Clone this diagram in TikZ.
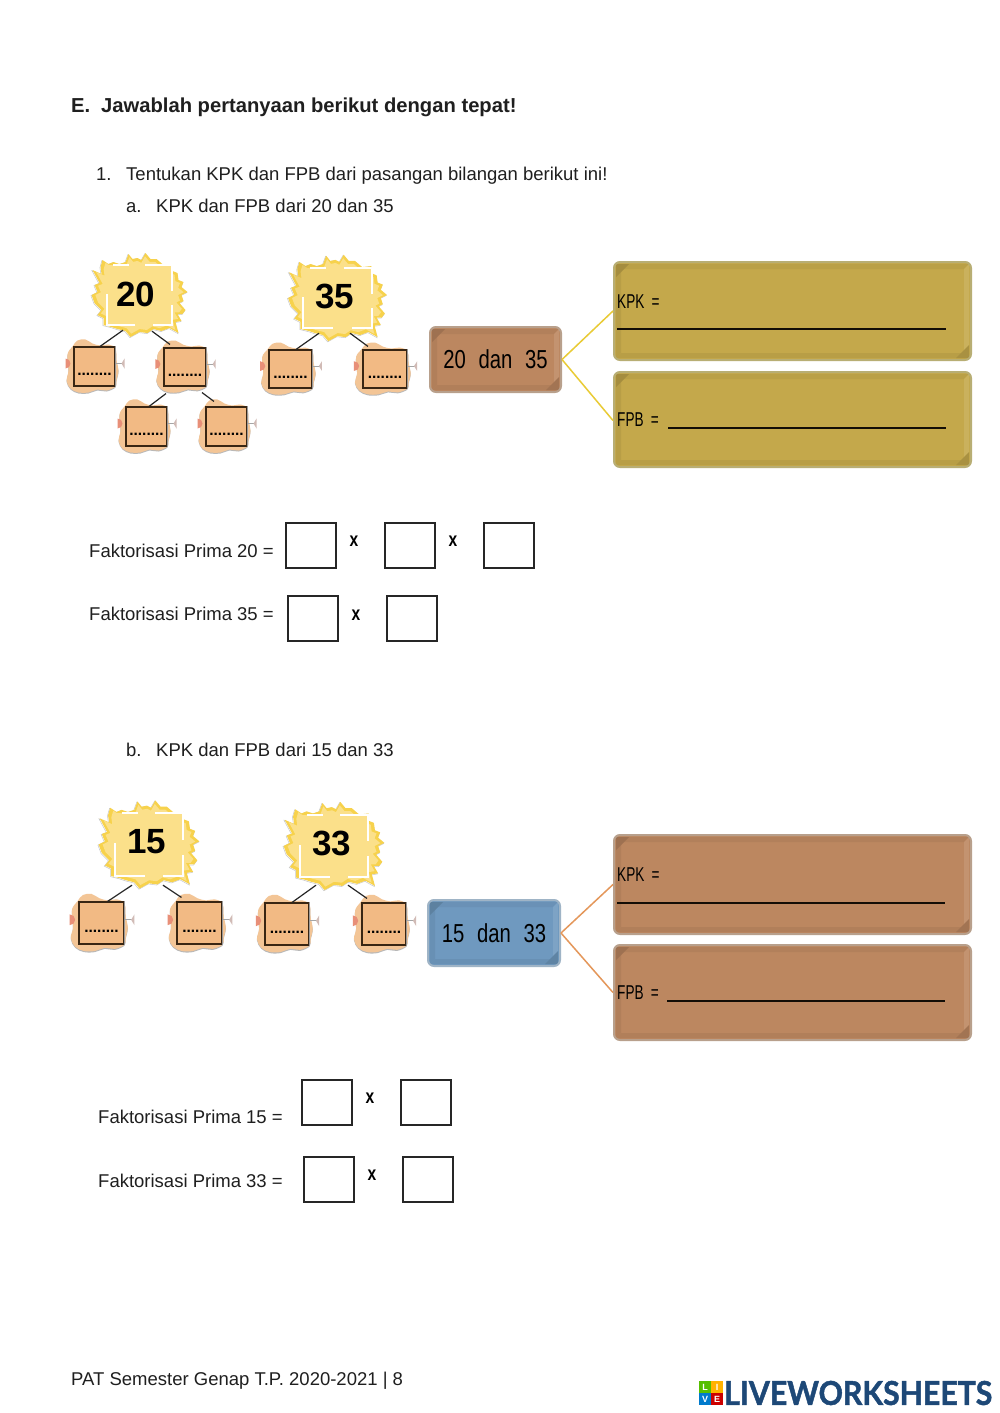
\documentclass[tikz,border=0pt]{standalone}
\usepackage{fontspec}
\setmainfont{Liberation Sans}
\newfontfamily\narrowfont[FakeStretch=0.78]{Liberation Sans}
\newfontfamily\slimfont[FakeStretch=0.68]{Liberation Sans}
\newfontfamily\logofont[BoldFeatures={FakeBold=1.5}]{Lato}
\usetikzlibrary{fit}
\definecolor{burstc}{HTML}{F7D24C}
\definecolor{burstin}{HTML}{FBE08A}
\definecolor{cloudc}{HTML}{F3C596}
\definecolor{leafc}{HTML}{F2BA84}
\definecolor{petal}{HTML}{E88F78}
\definecolor{gold}{HTML}{C4A84B}
\definecolor{goldedge}{HTML}{B8AE74}
\definecolor{clay}{HTML}{BC8760}
\definecolor{clayedge}{HTML}{B8A08C}
\definecolor{steel}{HTML}{6F99BF}
\definecolor{steeledge}{HTML}{9FB4C6}
\definecolor{linegold}{HTML}{E9CB35}
\definecolor{lineorange}{HTML}{E4975A}
\definecolor{logoblue}{HTML}{1D4877}
\tikzset{
  txt/.style={anchor=base west,inner sep=0pt,font=\fontsize{18.5}{22}\selectfont,text=black!88},
  boldtxt/.style={txt,font=\fontsize{20.2}{22}\selectfont\bfseries},
  ansbox/.style={draw=black!85,line width=2pt,minimum width=50pt,minimum height=45pt,inner sep=0pt},
  timesmark/.style={inner sep=0pt,font=\narrowfont\fontsize{20}{22}\selectfont\bfseries},
  numlabel/.style={inner sep=0pt,font=\fontsize{35}{38}\selectfont\bfseries},
  conn/.style={draw=black!85,line width=1.2pt},
  branch/.style={line width=1.5pt},
  narrowlabel/.style={anchor=base west,inner sep=0pt,font=\slimfont\fontsize{20}{24}\selectfont},
  pairlabel/.style={inner sep=0pt,font=\narrowfont\fontsize{26}{30}\selectfont},
  wline/.style={draw=black!90!brown,line width=1.5pt},
  bracket/.style={white,line width=1.8pt},
  logotile/.style={minimum size=11.5pt,inner sep=0pt,text=white,font=\fontsize{9}{9}\selectfont\bfseries}
}
\newcommand{\burstpath}{(-37,-35) -- (-31,-31) -- (-26,-33) -- (-20,-31) -- (-14,-33) -- (-11,-41) -- (-7,-36) -- (-2,-37) -- (2,-35) -- (6,-42) -- (11,-36) -- (17,-36) -- (24,-30) -- (33,-31) -- (33,-24) -- (38,-22) -- (39,-15) -- (44,-13) -- (42,-8) -- (48,-3) -- (42,0) -- (44,6) -- (40,8) -- (46,15) -- (43,19) -- (38,19) -- (42,26) -- (36,27) -- (39,38) -- (30,33) -- (22,36) -- (14,34) -- (8,38) -- (0,37) -- (-9,42) -- (-14,36) -- (-22,34) -- (-28,32) -- (-36,30) -- (-36,23) -- (-42,20) -- (-38,15) -- (-45,8) -- (-48,0) -- (-42,-3) -- (-45,-10) -- (-40,-12) -- (-47,-25) -- (-38,-21) -- (-39,-28) -- cycle}
% name, centre x, y, square width, height, scale
\newcommand{\burstshape}[6]{%
  \begin{scope}[shift={(#2,#3)},xscale=#6,yscale=#6]
    \draw[black!22,line width=.5pt,shift={(-.6,.6)}] \burstpath;
    \fill[burstc] \burstpath;
    \fill[burstin,xscale=.92,yscale=.92] \burstpath;
  \end{scope}
  \node[fill=burstin,minimum width=#4pt,minimum height=#5pt,inner sep=0pt] (#1) at (#2,#3) {};
  \draw[bracket] (#1.north west) ++({.10*#4},0) -- ++({.24*#4},0);
  \draw[bracket] (#1.north west) ++({.59*#4},0) -- ++({.41*#4},0) -- ++(0,{.43*#5});
  \draw[bracket] (#1.south east) ++(0,{-.34*#5}) -- ++(0,{.34*#5}) -- ++({-.29*#4},0);
  \draw[bracket] (#1.south west) ++({.44*#4},0) -- ++({-.44*#4},0) -- ++(0,{-.52*#5});
}
% name, centre x, y, square width, height
\newcommand{\leafshape}[5]{%
  \begin{scope}[shift={(#2,#3)},xscale=#4/41,yscale=#5/39]
    \fill[black!28,shift={(0,1)}] plot[smooth cycle,tension=.6] coordinates {(-27,-12) (-22,-20) (-17,-26) (-9,-27) (-2,-23) (6,-21) (14,-22) (21,-18) (22,-6) (24,4) (22,14) (21,20) (12,24) (3,23) (-6,26) (-16,26) (-24,22) (-28,14) (-26,4)};
    \fill[cloudc] plot[smooth cycle,tension=.6] coordinates {(-27,-12) (-22,-20) (-17,-26) (-9,-27) (-2,-23) (6,-21) (14,-22) (21,-18) (22,-6) (24,4) (22,14) (21,20) (12,24) (3,23) (-6,26) (-16,26) (-24,22) (-28,14) (-26,4)};
    \fill[petal] (-29,2) arc[start angle=90,end angle=-90,radius=5] -- cycle;
    \draw[black!35,line width=.8pt] (21,-3) -- (28,-3);
    \fill[petal!60!black!40] (30,-8) -- (27,-3) -- (30,2) -- cycle;
  \end{scope}
  \node[draw=black!70!brown,line width=1.1pt,fill=leafc,minimum width=#4pt,minimum height=#5pt,inner sep=0pt] (#1) at (#2,#3) {};
  \draw[black!40,line width=1pt] (#1.north east) -- (#1.south east);
  \node[inner sep=0pt,font=\fontsize{15.5}{16}\selectfont\bfseries] at ([yshift=-8pt]#1.center) {........};
}
% name, x1, y1, x2, y2, face, edge, text
\newcommand{\bevbox}[8]{%
  \fill[#6,rounded corners=6pt] (#2,#3) rectangle (#4,#5);
  \fill[#6!95!black] (#2+2,#3+2) -- (#4-2,#3+2) -- (#4-7,#3+7) -- (#2+7,#3+7) -- cycle;
  \fill[#6!94!black] (#2+2,#3+2) -- (#2+7,#3+7) -- (#2+7,#5-7) -- (#2+2,#5-2) -- cycle;
  \fill[#6!90!white] (#4-2,#3+2) -- (#4-7,#3+7) -- (#4-7,#5-7) -- (#4-2,#5-2) -- cycle;
  \fill[#6!94!black] (#2+2,#5-2) -- (#2+7,#5-7) -- (#4-7,#5-7) -- (#4-2,#5-2) -- cycle;
  \fill[#6!84!black] (#2+2,#3+2) -- (#2+15,#3+2) -- (#2+2,#3+15) -- cycle;
  \fill[#6!86!black] (#4-2,#5-2) -- (#4-15,#5-2) -- (#4-2,#5-15) -- cycle;
  \coordinate (#1-a) at (#2,#3);
  \coordinate (#1-b) at (#4,#5);
  \node[fit=(#1-a)(#1-b),inner sep=0pt,draw=#7,line width=2pt,rounded corners=6pt] (#1) {};
  \node[pairlabel] at (#1.center) {#8};
}
\begin{document}
\begin{tikzpicture}[x=1pt,y=-1pt]
\useasboundingbox (0,0) rectangle (1000,1413);
\fill[white] (0,0) rectangle (1000,1413);

\node[boldtxt] (heading) at (71,112) {E.};
\node[boldtxt] (headingb) at (101,112) {Jawablah pertanyaan berikut dengan tepat!};
\node[txt] (qnum) at (96,180) {1.};
\node[txt] (qtext) at (126,180) {Tentukan KPK dan FPB dari pasangan bilangan berikut ini!};
\node[txt] (anum) at (126,212) {a.};
\node[txt] (atext) at (156,212) {KPK dan FPB dari 20 dan 35};

% --- part a trees
\burstshape{b20}{139.5}{295}{65}{60}{1}
\node[numlabel] (n20) at (135.5,294) {20};
\burstshape{b35}{337.5}{298}{69}{60}{1.03}
\node[numlabel] (n35) at (334.5,296) {35};
\leafshape{l1}{94.5}{366.5}{41}{39}
\leafshape{l2}{185}{367}{42}{38}
\leafshape{l3}{146.5}{426.5}{41}{39}
\leafshape{l4}{226.5}{426.5}{41}{39}
\leafshape{l5}{290.5}{369}{43}{38}
\leafshape{l6}{385}{369}{44}{38}
\draw[conn] ([shift={(-16.5,5)}]b20.south) -- ([xshift=5.5pt]l1.north);
\draw[conn] ([shift={(12.5,6)}]b20.south) -- ([xshift=-15pt,yshift=3pt]l2.north);
\draw[conn] ([shift={(-19,7)}]l2.south) -- ([xshift=2.5pt]l3.north);
\draw[conn] ([shift={(17,6)}]l2.south) -- ([xshift=-12.5pt,yshift=5pt]l4.north);
\draw[conn] ([shift={(-18.5,5)}]b35.south) -- ([xshift=5.5pt]l5.north);
\draw[conn] ([shift={(12.5,5)}]b35.south) -- ([xshift=-17pt,yshift=3pt]l6.north);

% --- part a boxes
\bevbox{p1}{430}{327}{561}{392}{clay}{clayedge}{20\hspace{7pt} dan\hspace{7pt} 35}
\bevbox{k1}{614}{262}{971}{360}{gold}{goldedge}{}
\bevbox{f1}{614}{372}{971}{467}{gold}{goldedge}{}
\draw[branch,linegold] (p1.east) -- (k1.west);
\draw[branch,linegold] (p1.east) -- ([yshift=-1pt]f1.west);
\node[narrowlabel] (kl1) at (617,308) {KPK \,=};
\draw[wline] (617,329) -- (946,329);
\node[narrowlabel] (fl1) at (617,426) {FPB \,=};
\draw[wline] (668,428) -- (946,428);

% --- part a factorisation
\node[txt] (fa1) at (89,557) {Faktorisasi Prima 20 =};
\node[ansbox] (a1) at (311,545) {};
\node[timesmark] (x1) at (354,541) {x};
\node[ansbox] (a2) at (409.5,545) {};
\node[timesmark] (x2) at (453,541) {x};
\node[ansbox] (a3) at (508.5,545) {};
\node[txt] (fa2) at (89,620) {Faktorisasi Prima 35 =};
\node[ansbox] (a4) at (313,618.5) {};
\node[timesmark] (x3) at (356,615) {x};
\node[ansbox] (a5) at (412,618.5) {};

\node[txt] (bnum) at (126,756) {b.};
\node[txt] (btext) at (156,756) {KPK dan FPB dari 15 dan 33};

% --- part b trees
\burstshape{b15}{149}{844.5}{68}{63}{1.05}
\node[numlabel] (n15) at (147,842) {15};
\burstshape{b33}{334}{846}{68}{62}{1.05}
\node[numlabel] (n33) at (332,843) {33};
\leafshape{l7}{101.5}{923}{45}{42}
\leafshape{l8}{199.5}{923}{45}{42}
\leafshape{l9}{287}{924}{44}{42}
\leafshape{l10}{384}{924}{44}{42}
\draw[conn] ([shift={(-17,9)}]b15.south) -- ([xshift=6pt]l7.north);
\draw[conn] ([shift={(14,9)}]b15.south) -- ([xshift=-18pt,yshift=4pt]l8.north);
\draw[conn] ([shift={(-18,8)}]b33.south) -- ([xshift=5pt]l9.north);
\draw[conn] ([shift={(14,8)}]b33.south) -- ([xshift=-17pt,yshift=4pt]l10.north);

% --- part b boxes
\bevbox{p2}{428}{900}{560}{966}{steel}{steeledge}{15\hspace{7pt} dan\hspace{7pt} 33}
\bevbox{k2}{614}{835}{971}{934}{clay}{clayedge}{}
\bevbox{f2}{614}{945}{971}{1040}{clay}{clayedge}{}
\draw[branch,lineorange] (p2.east) -- (k2.west);
\draw[branch,lineorange] (p2.east) -- (f2.west);
\node[narrowlabel] (kl2) at (617,881) {KPK \,=};
\draw[wline] (617,903) -- (945,903);
\node[narrowlabel] (fl2) at (617,999) {FPB \,=};
\draw[wline] (667,1001) -- (945,1001);

% --- part b factorisation
\node[txt] (fb1) at (98,1123) {Faktorisasi Prima 15 =};
\node[ansbox] (b1) at (327,1102) {};
\node[timesmark] (x4) at (370,1098) {x};
\node[ansbox] (b2) at (425.5,1102) {};
\node[txt] (fb2) at (98,1187) {Faktorisasi Prima 33 =};
\node[ansbox] (b3) at (329,1179.5) {};
\node[timesmark] (x5) at (372,1175) {x};
\node[ansbox] (b4) at (427.5,1179.5) {};

% --- footer
\node[txt] (foot) at (71,1385) {PAT Semester Genap T.P. 2020-2021 | 8};
\node[logotile,fill=green!55!yellow!75!black] (t1) at (705,1387) {L};
\node[logotile,fill=orange!60!yellow] (t2) at (717,1387) {I};
\node[logotile,fill=blue!40!cyan!80!black] (t3) at (705,1399) {V};
\node[logotile,fill=red!80!black] (t4) at (717,1399) {E};
\node[anchor=west,inner sep=0pt,text=logoblue] (logo) at (724,1393) {\resizebox{268pt}{24pt}{\logofont\bfseries LIVEWORKSHEETS}};
\end{tikzpicture}
\end{document}
